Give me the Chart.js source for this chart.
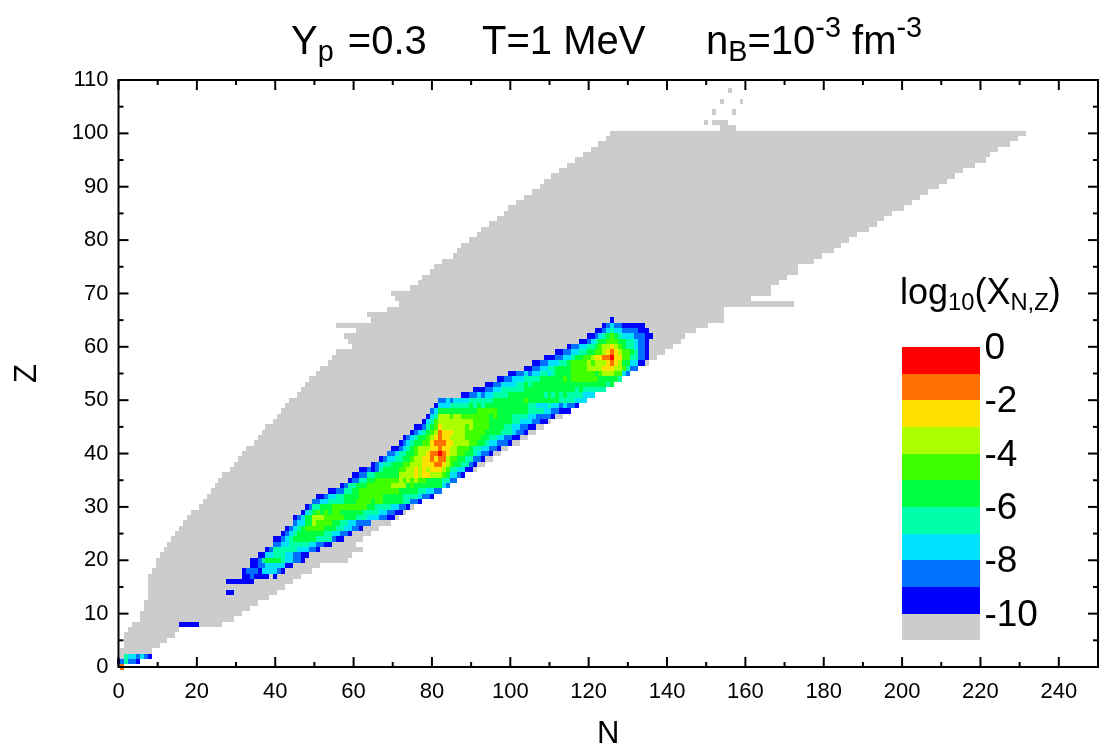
<!DOCTYPE html>
<html>
<head>
<meta charset="utf-8">
<title>Y_p=0.3 T=1 MeV nuclear abundances</title>
<script src="https://cdn.jsdelivr.net/npm/chart.js@4"></script>
<style>
  html, body { margin: 0; padding: 0; background: #fff; }
  #wrap { position: relative; width: 1099px; height: 753px; overflow: hidden; font-family: "Liberation Sans", Arial, sans-serif; color: #000; }
  canvas { position: absolute; left: 0; top: 0; }
  .txt { position: absolute; white-space: pre; line-height: 1; }
  .txt sub, .txt sup { line-height: 0; font-size: 0.72em; }
  .txt sub { vertical-align: -0.26em; }
  .txt sup { vertical-align: 0.58em; }
  .key sub { font-size: 0.66em; }
</style>
</head>
<body>
<div id="wrap">
  <canvas id="chart" width="1099" height="753"></canvas>
  <div class="txt" style="left:291px;top:20px;font-size:40px">Y<sub>p</sub><span style="margin-left:3px"> =0.3</span></div>
  <div class="txt" style="left:482px;top:20px;font-size:40px">T=1 MeV</div>
  <div class="txt" style="left:706px;top:20px;font-size:40px">n<sub>B</sub>=10<sup>-3</sup> fm<sup>-3</sup></div>
  <div class="txt key" style="left:900px;top:274px;font-size:36px">log<sub>10</sub>(X<sub>N,Z</sub>)</div>
</div>
<script>
// tick labels
const xTicks = [0, 20, 40, 60, 80, 100, 120, 140, 160, 180, 200, 220, 240]
const yTicks = [0, 10, 20, 30, 40, 50, 60, 70, 80, 90, 100, 110]

// colour levels of log10(X), level 0 is the top of the key, level 10 is the grey floor
const levelColors = ["#ff0000", "#ff7000", "#ffe000", "#aaff00", "#40ff00", "#00ff40", "#00ffaa", "#00e0ff", "#0070ff", "#0000ff", "#cccccc"]
const keyLabels = ["0", "-2", "-4", "-6", "-8", "-10"]
const keyLabelZ = [60, 50, 40, 30, 20, 10]

// grey region: first and last N of each Z, from Z = 3 upward
const greyFirstZ = 3
const greyLeft = [1, 2, 2, 2, 3, 4, 6, 6, 7, 7, 8, 8, 8, 8, 8, 9, 10, 10, 11, 12, 13, 14, 15, 16, 17, 18, 19, 21, 22, 23, 24, 25, 26, 27, 29, 30, 31, 32, 33, 35, 36, 37, 38, 40, 41, 42, 43, 44, 46, 47, 48, 49, 51, 52, 54, 55, 56, 60, 59, 58, 61, 56, 65, 64, 69, 72, 71, 70, 75, 77, 78, 80, 81, 83, 86, 87, 88, 90, 92, 93, 95, 97, 99, 100, 102, 104, 106, 108, 109, 111, 113, 115, 117, 119, 121, 123, 125, 126]
const greyRight = [8, 10, 12, 14, 15, 26, 29, 31, 33, 35, 38, 40, 42, 44, 46, 49, 51, 58, 59, 62, 60, 62, 64, 66, 69, 71, 73, 75, 77, 80, 82, 84, 86, 88, 91, 93, 95, 97, 99, 102, 104, 106, 108, 110, 113, 115, 117, 119, 121, 124, 126, 128, 130, 132, 135, 137, 139, 141, 143, 144, 147, 150, 154, 154, 154, 172, 161, 166, 166, 168, 170, 173, 173, 177, 179, 182, 184, 186, 188, 191, 193, 195, 197, 200, 202, 204, 206, 209, 211, 213, 215, 218, 221, 222, 224, 227, 229, 231]

// stray grey cells off the main region
const strayZ = [2, 101, 102, 102, 104, 104, 106, 106, 108]
const strayFrom = [1, 154, 150, 152, 152, 157, 154, 159, 156]
const strayTo = [1, 157, 150, 155, 152, 157, 154, 159, 156]

// coloured cells: for each Z the first N and then one level digit per N, "." leaves the grey showing
const bandZ = [65, 64, 63, 62, 61, 60, 59, 58, 57, 56, 55, 54, 53, 52, 51, 50, 49, 48, 47, 46, 45, 44, 43, 42, 41, 40, 39, 38, 37, 36, 35, 34, 33, 32, 31, 30, 29, 28, 27, 26, 25, 24, 23, 22, 21, 20, 19, 18, 17, 16, 14, 8, 2, 1, 0]
const bandStart = [126, 124, 122, 120, 118, 115, 112, 109, 106, 104, 100, 97, 94, 91, 88, 82, 81, 80, 79, 78, 76, 75, 73, 72, 70, 69, 67, 65, 62, 60, 59, 57, 54, 51, 50, 48, 47, 45, 45, 43, 42, 40, 40, 38, 36, 34, 34, 32, 32, 28, 28, 16, 2, 0, 1]
const bandCells = [
  "9",
  "98788999999",
  "99876778888999",
  "99876545677788899",
  "998765544455667889",
  "988776654332345667889",
  "998877665544321234456889",
  "999887765544322110224466889",
  "99887776654444343332123557799",
  "99887766555544443333222334688",
  "9988787766765555444444543334478",
  "99887776666555555454444444555556",
  "998877776656555555555555555555565",
  "9998877666666555555555555565666666",
  "9988787766665555555556565656666777",
  "88787777666666555555554555555556666777",
  "9777666665656555555555556677767787889",
  "875555555555444445555555566667788999",
  "976333433444444454555566667788889",
  "97643333333334444555555667778899",
  "9986542333333434444555566778899",
  "987654312223334444455556667889",
  "987655432122333344445566778899",
  "98765544211122333344556778889",
  "9987654333221223344456677889",
  "887665543321101233445567889",
  "987766554332212113445566889",
  "987665554433322211234556689",
  "99898655554433232322234667799",
  "99886655555533332322333457789",
  "9886655444444343434455556688",
  "9866555444444333354555555578",
  "99886655444444444455555667788",
  "998776655554444445555566667889",
  "8877666655544445445555566889",
  "986655544444444455666677889",
  "97654545445555556666778899",
  "98755333444445556667778899",
  "87755344445566778888",
  "98765444445556677889",
  "987655555556677889",
  "998765555556666899",
  "887766666778899",
  "98666666777889",
  "9977666778899",
  "99865555677889",
  "99887777799",
  "98889777789",
  "9989999.9",
  "9999999",
  "99",
  "99999",
  "6778789",
  "986889",
  "1"
]

// turn the cell lists into one floating bar per run, one dataset per level
const runs = levelColors.map(() => [])
greyLeft.forEach((n, i) => {
  runs[10].push({ x: [n - 0.5, greyRight[i] + 0.5], y: greyFirstZ + i })
})
strayZ.forEach((z, i) => {
  runs[10].push({ x: [strayFrom[i] - 0.5, strayTo[i] + 0.5], y: z })
})
bandZ.forEach((z, i) => {
  const cells = bandCells[i]
  let from = 0
  for (let k = 1; k <= cells.length; k++) {
    if (cells[k] !== cells[from]) {
      if (cells[from] !== ".") {
        runs[+cells[from]].push({ x: [bandStart[i] + from - 0.5, bandStart[i] + k - 0.5], y: z })
      }
      from = k
    }
  }
})

// the colour key sits in data space as well: N 200-220, Z 60 down to 5, five Z per level
levelColors.forEach((c, level) => {
  for (let k = 0; k < 5; k++) {
    runs[level].push({ x: [200, 220], y: 60 - 5 * level - k - 0.5 })
  }
})

const datasets = levelColors.map((color, level) => ({
  label: String(-level),
  data: runs[level],
  backgroundColor: color,
  borderWidth: 0,
  inflateAmount: 0,
  barThickness: 5.336,
  grouped: false,
  clip: false,
}))

// snap the bars to whole pixels, otherwise neighbouring rows leave pale seams
const snap = (v) => Math.round(v + 0.01)
const snapPlugin = {
  id: "snap",
  afterDatasetsUpdate(chart) {
    chart.getSortedVisibleDatasetMetas().forEach((meta) => {
      meta.data.forEach((bar) => {
        const top = snap(bar.y - bar.height / 2)
        const bottom = snap(bar.y + bar.height / 2)
        bar.y = (top + bottom) / 2
        bar.height = bottom - top
        bar.x = snap(bar.x)
        bar.base = snap(bar.base)
      })
    })
  },
}

// gnuplot style frame: inward ticks on all four sides, long at labels, short half way
const framePlugin = {
  id: "frame",
  afterDatasetsDraw(chart) {
    const { ctx, chartArea: a, scales: { x, y } } = chart
    ctx.save()
    ctx.strokeStyle = "#000"
    ctx.lineWidth = 2
    const line = (x1, y1, x2, y2) => {
      ctx.beginPath()
      ctx.moveTo(x1, y1)
      ctx.lineTo(x2, y2)
      ctx.stroke()
    }
    xTicks.forEach((v) => {
      const major = x.getPixelForValue(v)
      const minor = x.getPixelForValue(v + 10)
      line(major, a.bottom, major, a.bottom - 10)
      line(major, a.top, major, a.top + 10)
      line(minor, a.bottom, minor, a.bottom - 5)
      line(minor, a.top, minor, a.top + 5)
    })
    yTicks.forEach((v) => {
      const major = y.getPixelForValue(v)
      line(a.left, major, a.left + 10, major)
      line(a.right, major, a.right - 10, major)
      if (v < 110) {
        const minor = y.getPixelForValue(v + 5)
        line(a.left, minor, a.left + 5, minor)
        line(a.right, minor, a.right - 5, minor)
      }
    })
    ctx.strokeRect(a.left, a.top, a.right - a.left, a.bottom - a.top)

    // key labels
    ctx.fillStyle = "#000"
    ctx.font = '37px "Liberation Sans", Arial, sans-serif'
    ctx.textAlign = "left"
    ctx.textBaseline = "middle"
    keyLabels.forEach((label, i) => {
      ctx.fillText(label, x.getPixelForValue(221), y.getPixelForValue(keyLabelZ[i]) + 2)
    })
    ctx.restore()
  },
}

const tickFont = { family: '"Liberation Sans", Arial, sans-serif', size: 22 }
const titleFont = { family: '"Liberation Sans", Arial, sans-serif', size: 31 }

new Chart(document.getElementById("chart"), {
  type: "bar",
  data: { datasets },
  plugins: [snapPlugin, framePlugin],
  options: {
    indexAxis: "y",
    responsive: false,
    animation: false,
    layout: { padding: { top: 80, right: 1, bottom: 0, left: 0 } },
    plugins: { legend: { display: false }, tooltip: { enabled: false } },
    scales: {
      x: {
        type: "linear",
        min: 0,
        max: 250,
        grid: { display: false, drawTicks: false },
        border: { display: false },
        afterFit: (scale) => { scale.height = 86 },
        ticks: {
          stepSize: 20,
          includeBounds: false,
          autoSkip: false,
          maxRotation: 0,
          padding: 12,
          color: "#000",
          font: tickFont,
        },
        title: { display: true, text: "N", color: "#000", font: titleFont, padding: { top: 8, bottom: 0 } },
      },
      y: {
        type: "linear",
        min: 0,
        max: 110,
        offset: false,
        grid: { display: false, drawTicks: false, offset: false },
        border: { display: false },
        afterFit: (scale) => { scale.width = 118.5 },
        ticks: {
          stepSize: 10,
          includeBounds: false,
          autoSkip: false,
          padding: 10,
          color: "#000",
          font: tickFont,
        },
        title: { display: true, text: "Z", color: "#000", font: titleFont, padding: { top: 9, bottom: 0 } },
      },
    },
  },
})
</script>
</body>
</html>
